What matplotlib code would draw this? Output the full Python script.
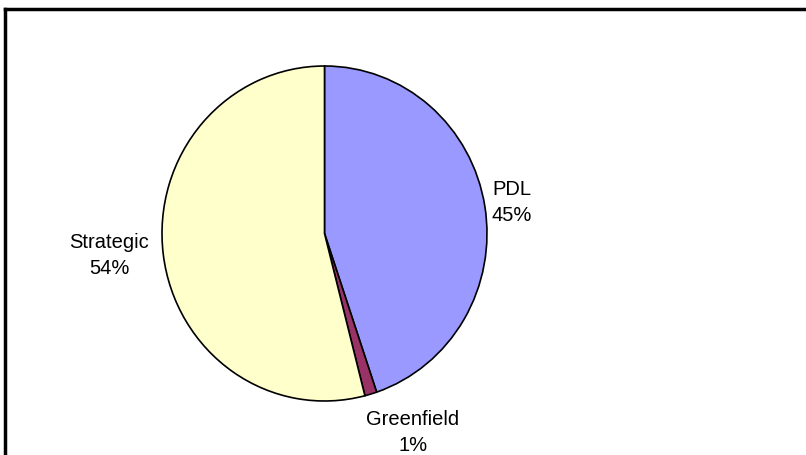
import numpy as np
import matplotlib.pyplot as plt
from matplotlib.lines import Line2D

categories = ["PDL", "Greenfield", "Strategic"]
shares = [44.8, 1.2, 54.0]
colors = ["#9999FF", "#993366", "#FFFFCC"]
label_dist = [1.17, 1.30, 1.33]
label_ang = [9.5, -65.3, 185.5]

plt.rcParams["font.family"] = ["Liberation Sans", "DejaVu Sans"]

W, H = 806, 456
fig = plt.figure(figsize=(W / 100, H / 100), dpi=100)
cx, cy, rx, ry = 324.5, 234.5, 162.5, 167.5
ax = fig.add_axes([(cx - rx) / W, (H - cy - ry) / H, 2 * rx / W, 2 * ry / H])

labels = [f"{c}\n{round(s):.0f}%" for c, s in zip(categories, shares)]
wedges, texts = ax.pie(shares, labels=labels, colors=colors, startangle=90,
                       counterclock=False,
                       wedgeprops=dict(edgecolor="black", linewidth=1.2),
                       textprops=dict(fontsize=14.5, linespacing=1.45))
for t, d, a in zip(texts, label_dist, label_ang):
    t.set_position((d * np.cos(np.radians(a)), d * np.sin(np.radians(a))))
    t.set_ha("center")
    t.set_va("center")
ax.set_xlim(-1, 1)
ax.set_ylim(-1, 1)
ax.set_aspect("auto")

# chart frame (only top and left visible)
fig.add_artist(Line2D([4.5 / W, 1], [1 - 9.5 / H] * 2, color="black", lw=2.5,
                      transform=fig.transFigure))
fig.add_artist(Line2D([4.5 / W] * 2, [0, 1 - 9.5 / H], color="black", lw=2.5,
                      transform=fig.transFigure))

fig.savefig("out.png", dpi=100)
